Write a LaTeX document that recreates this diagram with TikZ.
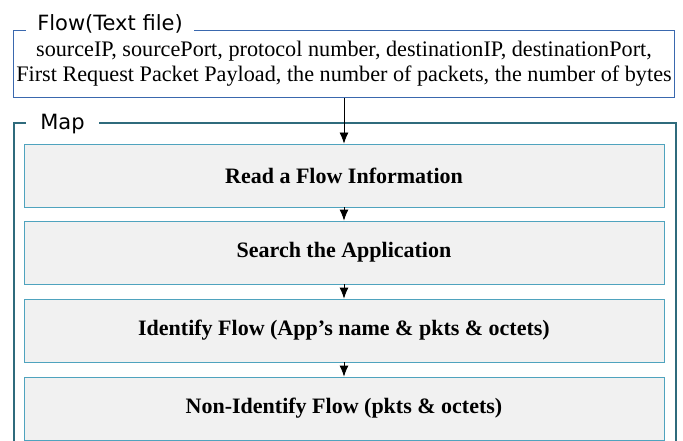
\documentclass[tikz,border=0pt]{standalone}
\usepackage{fontspec}
\setmainfont{Liberation Serif}
\newfontfamily\labelfont{DejaVu Sans}
\usetikzlibrary{arrows.meta}

\definecolor{flowblue}{HTML}{3A68AE}
\definecolor{mapteal}{HTML}{2F6B7C}
\definecolor{stepline}{HTML}{4FA3BE}
\definecolor{stepfill}{HTML}{F1F1F1}

\begin{document}
\begin{tikzpicture}[x=1pt,y=-1pt]

\tikzset{flowbox/.style = {draw=flowblue,line width=1.6pt,minimum width=661pt,minimum height=67pt,inner sep=0pt,align=center,font=\fontsize{22.2}{25}\selectfont}}
\tikzset{stepbox/.style = {draw=stepline,fill=stepfill,line width=0.8pt,minimum width=640pt,minimum height=63pt,inner sep=0pt,font=\fontsize{22}{24}\selectfont\bfseries}}
\tikzset{boxlabel/.style = {fill=white,inner ysep=1pt,font=\labelfont\fontsize{21}{24}\selectfont}}
\tikzset{edge/.style = {-{Latex[length=11pt,width=9pt]},line width=0.8pt}}

\clip (0,0) rectangle (683,441);
\useasboundingbox (0,0) rectangle (683,441);

%flow input
\node[flowbox] (flow) at (344,64) {sourceIP, sourcePort, protocol number, destinationIP, destinationPort,\\First Request Packet Payload, the number of packets, the number of bytes};
\node[boxlabel, inner xsep=11pt] (flowlabel) at (110,24) {Flow(Text file)};

%map frame
\draw[mapteal, line width=1.6pt] (14,460) -- (14,123) -- (676,123) -- (676,460);
\node[boxlabel, inner xsep=14pt] (maplabel) at (62.5,124) {Map};

%steps
\node[stepbox] (read) at (344,175.5) {Read a Flow Information};
\node[stepbox] (search) at (344,252.5) {Search the Application};
\node[stepbox] (ident) at (344,330.5) {Identify Flow (App\textquoteright s name \& pkts \& octets)};
\node[stepbox] (nonident) at (344,408.5) {Non-Identify Flow (pkts \& octets)};

\draw [edge] (flow) -- (read);
\draw [edge] (read) -- (search);
\draw [edge] (search) -- (ident);
\draw [edge] (ident) -- (nonident);

\end{tikzpicture}
\end{document}
